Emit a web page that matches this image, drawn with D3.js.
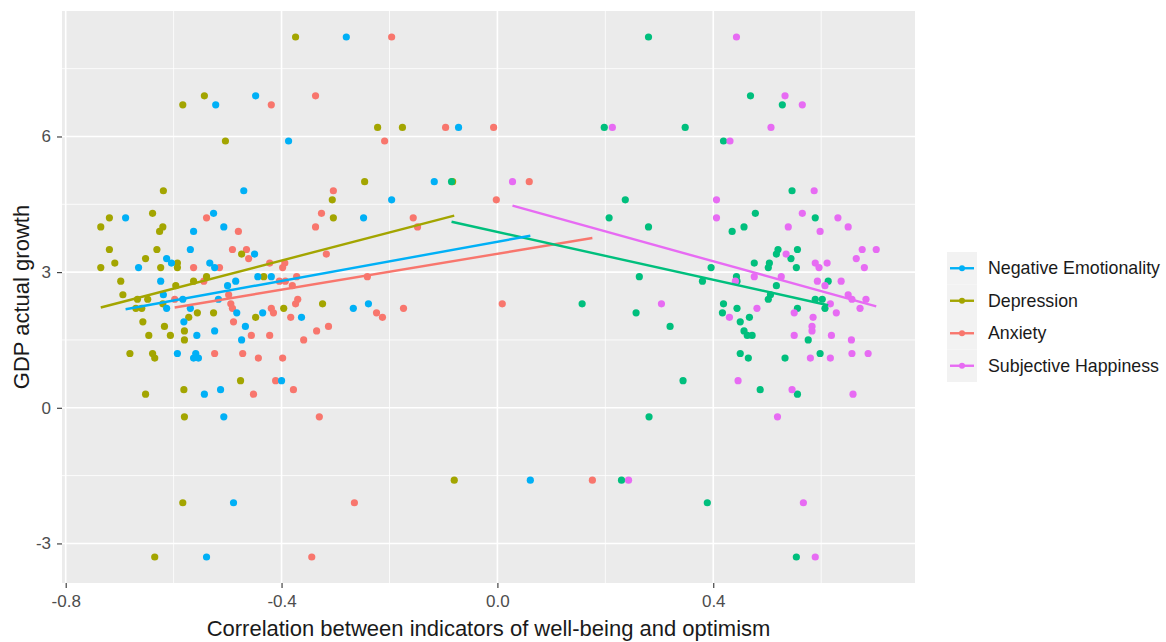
<!DOCTYPE html>
<html>
<head>
<meta charset="utf-8">
<script src="https://cdn.jsdelivr.net/npm/d3@7"></script>
<style>
  body { margin: 0; background: #fff; }
  text { font-family: "Liberation Sans", Arial, sans-serif; }
</style>
</head>
<body>
<script>
// correlation (x) vs GDP actual growth (y), one array per indicator
const negativeEmotionality = [
  [-0.280, 8.2], [-0.448, 6.9], [-0.522, 6.7], [-0.072, 6.2], [-0.387, 5.9], [-0.470, 4.8],
  [-0.117, 5.0], [-0.196, 4.6], [-0.526, 4.3], [-0.689, 4.2], [-0.248, 4.2], [-0.507, 4.0],
  [-0.563, 3.9], [-0.569, 3.5], [-0.450, 3.4], [-0.613, 3.3], [-0.604, 3.2], [-0.533, 3.2],
  [-0.665, 3.1], [-0.524, 3.1], [-0.444, 2.9], [-0.419, 2.9], [-0.624, 2.8], [-0.485, 2.8],
  [-0.500, 2.7], [-0.619, 2.5], [-0.517, 2.4], [-0.583, 2.4], [-0.239, 2.3], [-0.613, 2.2],
  [-0.569, 2.2], [-0.267, 2.2], [-0.483, 2.1], [-0.435, 2.1], [-0.581, 1.9], [-0.363, 2.0],
  [-0.467, 1.8], [-0.524, 1.7], [-0.557, 1.6], [-0.474, 1.5], [-0.593, 1.2], [-0.559, 1.2],
  [-0.563, 1.1], [-0.554, 1.1], [-0.513, 0.4], [-0.543, 0.3], [-0.400, 0.6], [-0.507, -0.2],
  [-0.489, -2.1], [0.061, -1.6], [-0.539, -3.3]
];

const depression = [
  [-0.374, 8.2], [-0.543, 6.9], [-0.583, 6.7], [-0.504, 5.9], [-0.222, 6.2], [-0.176, 6.2],
  [-0.246, 5.0], [-0.083, 5.0], [-0.619, 4.8], [-0.306, 4.6], [-0.304, 4.2], [-0.639, 4.3],
  [-0.719, 4.2], [-0.735, 4.0], [-0.620, 4.0], [-0.626, 3.9], [-0.719, 3.5], [-0.631, 3.5],
  [-0.474, 3.4], [-0.652, 3.3], [-0.709, 3.2], [-0.735, 3.1], [-0.624, 3.1], [-0.593, 3.2],
  [-0.593, 3.1], [-0.539, 2.9], [-0.433, 2.9], [-0.698, 2.8], [-0.563, 2.8], [-0.596, 2.7],
  [-0.694, 2.5], [-0.667, 2.4], [-0.648, 2.4], [-0.620, 2.3], [-0.324, 2.3], [-0.670, 2.2],
  [-0.659, 2.2], [-0.396, 2.2], [-0.556, 2.1], [-0.526, 2.1], [-0.572, 2.0], [-0.448, 2.0],
  [-0.657, 1.9], [-0.617, 1.8], [-0.580, 1.7], [-0.646, 1.6], [-0.606, 1.6], [-0.580, 1.5],
  [-0.681, 1.2], [-0.639, 1.2], [-0.635, 1.1], [-0.476, 0.6], [-0.581, 0.4], [-0.652, 0.3],
  [-0.580, -0.2], [-0.583, -2.1], [-0.635, -3.3], [-0.080, -1.6]
];

const anxiety = [
  [-0.196, 8.2], [-0.337, 6.9], [-0.419, 6.7], [-0.096, 6.2], [-0.007, 6.2], [-0.209, 5.9],
  [-0.304, 4.8], [0.059, 5.0], [-0.002, 4.6], [-0.326, 4.3], [-0.539, 4.2], [-0.156, 4.2],
  [-0.337, 4.0], [-0.148, 4.0], [-0.480, 3.9], [-0.491, 3.5], [-0.465, 3.5], [-0.317, 3.4],
  [-0.461, 3.3], [-0.563, 3.1], [-0.515, 3.1], [-0.422, 3.2], [-0.394, 3.2], [-0.398, 3.1],
  [-0.372, 2.9], [-0.241, 2.9], [-0.544, 2.8], [-0.404, 2.8], [-0.393, 2.8], [-0.380, 2.7],
  [-0.498, 2.5], [-0.370, 2.4], [-0.598, 2.4], [-0.374, 2.3], [-0.494, 2.3], [0.009, 2.3],
  [-0.491, 2.2], [-0.419, 2.2], [-0.174, 2.2], [-0.415, 2.1], [-0.224, 2.1], [-0.489, 1.9],
  [-0.383, 2.0], [-0.213, 2.0], [-0.313, 1.8], [-0.335, 1.7], [-0.456, 1.6], [-0.422, 1.6],
  [-0.359, 1.5], [-0.524, 1.2], [-0.472, 1.2], [-0.443, 1.1], [-0.398, 1.1], [-0.411, 0.6],
  [-0.378, 0.4], [-0.452, 0.3], [-0.330, -0.2], [-0.265, -2.1], [0.176, -1.6], [-0.344, -3.3]
];

// fifth group: plotted, but not listed in the legend
const unlabeled = [
  [0.280, 8.2], [0.469, 6.9], [0.528, 6.7], [0.198, 6.2], [0.348, 6.2], [0.419, 5.9],
  [-0.085, 5.0], [0.546, 4.8], [0.237, 4.6], [0.207, 4.2], [0.478, 4.3], [0.589, 4.2],
  [0.280, 4.0], [0.457, 4.0], [0.435, 3.9], [0.520, 3.5], [0.517, 3.4], [0.556, 3.5],
  [0.544, 3.3], [0.476, 3.2], [0.504, 3.2], [0.502, 3.1], [0.554, 3.1], [0.396, 3.1],
  [0.263, 2.9], [0.443, 2.9], [0.380, 2.8], [0.444, 2.8], [0.613, 2.8], [0.517, 2.7],
  [0.506, 2.5], [0.502, 2.4], [0.589, 2.4], [0.602, 2.4], [0.157, 2.3], [0.419, 2.3],
  [0.607, 2.2], [0.444, 2.2], [0.556, 2.2], [0.417, 2.1], [0.257, 2.1], [0.467, 2.0],
  [0.450, 1.9], [0.320, 1.8], [0.457, 1.7], [0.463, 1.6], [0.472, 1.6], [0.576, 1.5],
  [0.450, 1.2], [0.598, 1.2], [0.465, 1.1], [0.533, 1.1], [0.344, 0.6], [0.487, 0.4],
  [0.556, 0.3], [0.281, -0.2], [0.230, -1.6], [0.389, -2.1], [0.554, -3.3]
];

const subjectiveHappiness = [
  [0.443, 8.2], [0.533, 6.9], [0.565, 6.7], [0.213, 6.2], [0.507, 6.2], [0.431, 5.9],
  [0.028, 5.0], [0.587, 4.8], [0.406, 4.6], [0.406, 4.2], [0.565, 4.3], [0.631, 4.2],
  [0.650, 4.0], [0.539, 4.0], [0.598, 3.9], [0.676, 3.5], [0.702, 3.5], [0.535, 3.4],
  [0.665, 3.3], [0.589, 3.2], [0.611, 3.2], [0.596, 3.1], [0.680, 3.1], [0.476, 2.9],
  [0.526, 2.9], [0.441, 2.8], [0.593, 2.8], [0.637, 2.8], [0.607, 2.7], [0.650, 2.5],
  [0.657, 2.4], [0.683, 2.4], [0.304, 2.3], [0.481, 2.2], [0.550, 2.1], [0.672, 2.2],
  [0.617, 2.3], [0.628, 2.1], [0.430, 2.0], [0.585, 2.0], [0.583, 1.8], [0.583, 1.7],
  [0.550, 1.6], [0.619, 1.6], [0.656, 1.5], [0.657, 1.2], [0.687, 1.2], [0.580, 1.1],
  [0.617, 1.1], [0.446, 0.6], [0.546, 0.4], [0.659, 0.3], [0.519, -0.2], [0.243, -1.6],
  [0.567, -2.1], [0.589, -3.3]
];

const legendLabels = ["Negative Emotionality", "Depression", "Anxiety", "Subjective Happiness"];
const xTicks = [-0.8, -0.4, 0.0, 0.4];
const xTickLabels = ["-0.8", "-0.4", "0.0", "0.4"];
const xMinor = [-0.6, -0.2, 0.2, 0.6];
const yTicks = [-3, 0, 3, 6];
const yTickLabels = ["-3", "0", "3", "6"];
const yMinor = [-1.5, 1.5, 4.5, 7.5];

// drawing order follows the factor levels
const groups = [
  { key: "Anxiety", data: anxiety, color: "#F8766D" },
  { key: "Depression", data: depression, color: "#A3A500" },
  { key: "unlabeled", data: unlabeled, color: "#00BF7D" },
  { key: "Negative Emotionality", data: negativeEmotionality, color: "#00B0F6" },
  { key: "Subjective Happiness", data: subjectiveHappiness, color: "#E76BF3" }
];
const colorOf = {};
groups.forEach(g => colorOf[g.key] = g.color);

const W = 1166, H = 642;
const panel = { left: 62, right: 915, top: 11, bottom: 583 };

const svg = d3.select("body").append("svg")
  .attr("width", W)
  .attr("height", H);

/**
 * Range of the values widened by 5% on both sides, like ggplot does.
 */
function expanded(values) {
  const [lo, hi] = d3.extent(values);
  const pad = (hi - lo) * 0.05;
  return [lo - pad, hi + pad];
}

const all = groups.flatMap(g => g.data);
const x = d3.scaleLinear().domain(expanded(all.map(d => d[0]))).range([panel.left, panel.right]);
const y = d3.scaleLinear().domain(expanded(all.map(d => d[1]))).range([panel.bottom, panel.top]);

// panel background
svg.append("rect")
  .attr("x", panel.left).attr("y", panel.top)
  .attr("width", panel.right - panel.left)
  .attr("height", panel.bottom - panel.top)
  .attr("fill", "#EBEBEB");

// grid: minor first, then major
const grid = svg.append("g");
function vLines(values, width) {
  grid.append("g").selectAll("line").data(values).join("line")
    .attr("x1", d => x(d)).attr("x2", d => x(d))
    .attr("y1", panel.top).attr("y2", panel.bottom)
    .attr("stroke", "#fff").attr("stroke-width", width);
}
function hLines(values, width) {
  grid.append("g").selectAll("line").data(values).join("line")
    .attr("y1", d => y(d)).attr("y2", d => y(d))
    .attr("x1", panel.left).attr("x2", panel.right)
    .attr("stroke", "#fff").attr("stroke-width", width);
}
vLines(xMinor, 0.8);
hLines(yMinor, 0.8);
vLines(xTicks, 1.6);
hLines(yTicks, 1.6);

// axes
const xAxis = svg.append("g")
  .attr("transform", "translate(0," + panel.bottom + ")")
  .call(d3.axisBottom(x).tickValues(xTicks).tickFormat((d, i) => xTickLabels[i]).tickSize(5).tickPadding(7));
const yAxis = svg.append("g")
  .attr("transform", "translate(" + panel.left + ",0)")
  .call(d3.axisLeft(y).tickValues(yTicks).tickFormat((d, i) => yTickLabels[i]).tickSize(5).tickPadding(6));
[xAxis, yAxis].forEach(a => {
  a.select(".domain").remove();
  a.selectAll(".tick line").attr("stroke", "#333").attr("stroke-width", 1.1);
  a.selectAll(".tick text")
    .attr("fill", "#4D4D4D")
    .style("font-size", "17px")
    .style("font-family", "'Liberation Sans', Arial, sans-serif");
});

// points
groups.forEach(g => {
  svg.append("g").selectAll("circle").data(g.data).join("circle")
    .attr("cx", d => x(d[0]))
    .attr("cy", d => y(d[1]))
    .attr("r", 3.6)
    .attr("fill", g.color);
});

// least squares line for each group, over the group's own x range
function fitLine(data) {
  const mx = d3.mean(data, d => d[0]);
  const my = d3.mean(data, d => d[1]);
  const sxy = d3.sum(data, d => (d[0] - mx) * (d[1] - my));
  const sxx = d3.sum(data, d => (d[0] - mx) ** 2);
  const b = sxy / sxx, a = my - b * mx;
  const [x0, x1] = d3.extent(data, d => d[0]);
  return [[x0, a + b * x0], [x1, a + b * x1]];
}
const line = d3.line().x(d => x(d[0])).y(d => y(d[1]));
groups.forEach(g => {
  svg.append("path")
    .attr("d", line(fitLine(g.data)))
    .attr("fill", "none")
    .attr("stroke", g.color)
    .attr("stroke-width", 2.4);
});

// axis titles
svg.append("text")
  .attr("x", (panel.left + panel.right) / 2)
  .attr("y", 636)
  .style("text-anchor", "middle")
  .style("font-size", "22px")
  .attr("fill", "#1A1A1A")
  .text("Correlation between indicators of well-being and optimism");
svg.append("text")
  .attr("transform", "translate(29," + ((panel.top + panel.bottom) / 2) + ") rotate(-90)")
  .style("text-anchor", "middle")
  .style("font-size", "22px")
  .attr("fill", "#1A1A1A")
  .text("GDP actual growth");

// legend
const legend = svg.append("g").attr("transform", "translate(947,252)");
const rowH = 32.5;
legendLabels.forEach((label, i) => {
  const row = legend.append("g").attr("transform", "translate(0," + (i * rowH) + ")");
  row.append("rect")
    .attr("width", 30).attr("height", rowH)
    .attr("fill", "#F2F2F2");
  row.append("line")
    .attr("x1", 3).attr("x2", 27)
    .attr("y1", rowH / 2).attr("y2", rowH / 2)
    .attr("stroke", colorOf[label]).attr("stroke-width", 2.4);
  row.append("circle")
    .attr("cx", 15).attr("cy", rowH / 2).attr("r", 3)
    .attr("fill", colorOf[label]);
  row.append("text")
    .attr("x", 41).attr("y", rowH / 2)
    .attr("dy", "0.35em")
    .style("font-size", "17.8px")
    .attr("fill", "#1A1A1A")
    .text(label);
});
</script>
</body>
</html>
